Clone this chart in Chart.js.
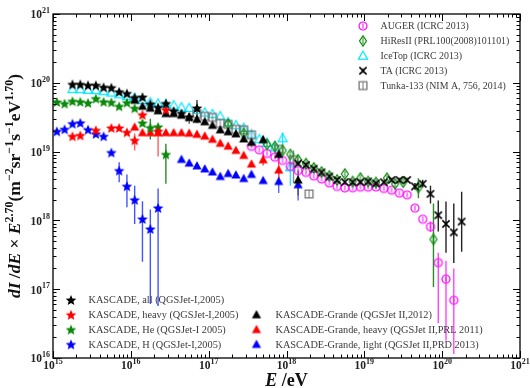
<!DOCTYPE html>
<html><head><meta charset="utf-8">
<script src="https://cdn.jsdelivr.net/npm/chart.js@4.4.0/dist/chart.umd.min.js"></script>
<style>html,body{margin:0;padding:0;background:#fff}</style>
</head><body><canvas id="c" width="530" height="388"></canvas>
<script>
// ---------------- DATA (E in eV, flux = dI/dE x E^2.70) ----------------
const xTickExp = ['15','16','17','18','19','20','21'];
const yTickExp = ['16','17','18','19','20','21'];

// KASCADE (QGSJet-I, 2005)
const kasAllE = [1.78e15,2.24e15,2.82e15,3.55e15,4.47e15,5.62e15,7.08e15,8.91e15,1.12e16,1.41e16,1.78e16,2.24e16,2.82e16,3.55e16,4.47e16,5.62e16,7.08e16];
const kasAllF = [9.5e19,9.5e19,9.2e19,9.2e19,8.6e19,8.5e19,7.4e19,7.0e19,6.1e19,6.2e19,4.9e19,4.4e19,5.0e19,3.9e19,3.6e19,3.2e19,4.3e19];
const kasAllErrE = [7.08e16], kasAllErrLo = [2.6e19], kasAllErrHi = [5.6e19];

const kasHeavyE = [1.78e15,2.24e15,3.55e15,5.62e15,7.08e15,8.91e15,1.12e16,1.41e16,2.24e16,2.82e16];
const kasHeavyF = [1.67e19,1.72e19,2.04e19,2.21e19,2.21e19,1.91e19,1.46e19,3.43e19,1.97e19,4.06e19];
const kasHeavyErrE = [1.12e16,2.24e16], kasHeavyErrLo = [1.04e19,8.5e18], kasHeavyErrHi = [1.84e19,2.4e19];

const kasHeE = [1.12e15,1.41e15,1.78e15,2.24e15,2.82e15,3.55e15,4.47e15,5.62e15,7.08e15,8.91e15,1.12e16,1.41e16,1.78e16,2.24e16,2.82e16];
const kasHeF = [5.27e19,4.99e19,5.4e19,5.3e19,5.1e19,5.9e19,5.3e19,5.2e19,4.56e19,5.16e19,4.27e19,2.6e19,2.23e19,2.29e19,9.1e18];
const kasHeErrE = [1.78e16,2.82e16], kasHeErrLo = [1.5e19,3.4e18], kasHeErrHi = [3.0e19,1.3e19];

const kasHE = [1.12e15,1.41e15,1.78e15,2.24e15,2.82e15,3.55e15,4.47e15,5.62e15,7.08e15,8.91e15,1.12e16,1.41e16,1.78e16,2.24e16];
const kasHF = [1.97e19,2.11e19,2.55e19,2.62e19,2.09e19,1.81e19,1.67e19,9.7e18,5.3e18,3.14e18,1.99e18,1.05e18,7.5e17,1.52e18];
const kasHErrE = [7.08e15,8.91e15,1.12e16,1.41e16,1.78e16,2.24e16];
const kasHErrLo = [3.6e18,1.55e18,8.9e17,2.5e17,6.1e16,5.7e16];
const kasHErrHi = [7.0e18,4.66e18,3.2e18,1.9e18,1.44e18,2.9e18];

// KASCADE-Grande (QGSJet II)
const kgAllE = [1.12e16,1.41e16,1.78e16,2.24e16,2.82e16,3.55e16,4.47e16,5.62e16,7.08e16,8.91e16,1.12e17,1.41e17,1.78e17,2.24e17,2.82e17,3.55e17,5.01e17,7.94e17,1.41e18];
const kgAllF = [5.57e19,4.56e19,4.27e19,3.92e19,3.57e19,3.57e19,3.38e19,3.15e19,2.95e19,2.71e19,2.41e19,2.07e19,1.94e19,1.81e19,1.53e19,1.36e19,1.49e19,9.1e18,3.86e18];
const kgAllErrE = [5.62e16,5.01e17,7.94e17,1.41e18], kgAllErrLo = [2.55e19,1.3e19,7.4e18,2.3e18], kgAllErrHi = [3.6e19,1.7e19,1.06e19,5.3e18];

const kgHeavyE = [1.12e16,1.41e16,1.78e16,2.24e16,2.82e16,3.55e16,4.47e16,5.62e16,7.08e16,8.91e16,1.12e17,1.41e17,1.78e17,2.24e17,2.82e17,3.55e17,5.01e17,7.94e17];
const kgHeavyF = [2.27e19,1.88e19,1.88e19,1.88e19,1.88e19,1.88e19,1.88e19,1.85e19,1.78e19,1.68e19,1.51e19,1.32e19,1.2e19,1.04e19,8.8e18,6.6e18,7.6e18,5.4e18];
const kgHeavyErrE = [5.01e17,7.94e17], kgHeavyErrLo = [6.3e18,3.8e18], kgHeavyErrHi = [9.3e18,7.45e18];

const kgLightE = [4.47e16,5.62e16,7.08e16,8.91e16,1.12e17,1.41e17,1.78e17,2.24e17,2.82e17,3.55e17,5.01e17,7.94e17,1.41e18];
const kgLightF = [7.7e18,6.8e18,6.2e18,5.6e18,5.06e18,4.35e18,4.8e18,4.57e18,4.06e18,4.66e18,3.8e18,3.68e18,3.3e18];
const kgLightErrE = [7.94e17,1.41e18], kgLightErrLo = [2.5e18,1.95e18], kgLightErrHi = [5.0e18,4.3e18];

// Other experiments
const augerE = [3.55e17,4.47e17,5.62e17,7.08e17,8.91e17,1.12e18,1.41e18,1.78e18,2.24e18,2.82e18,3.55e18,4.47e18,5.62e18,7.08e18,8.91e18,1.12e19,1.41e19,1.78e19,2.24e19,2.82e19,3.55e19,4.47e19,5.62e19,7.08e19,8.91e19,1.12e20,1.41e20];
const augerF = [1.19e19,1.06e19,9.4e18,8.3e18,7.45e18,6.1e18,5.3e18,4.98e18,4.43e18,4.0e18,3.5e18,3.11e18,2.96e18,2.98e18,3.04e18,3.04e18,3.06e18,2.91e18,2.75e18,2.5e18,2.35e18,1.51e18,1.04e18,8.1e17,2.43e17,1.40e17,6.9e16];
const augerErrE = [7.08e19,8.91e19,1.12e20,1.41e20], augerErrLo = [6.8e17,3.2e16,1.8e16,1.14e16], augerErrHi = [9.6e17,3.4e17,2.6e17,2.0e17];

const hiresE = [1.78e17,2.82e17,5.62e17,7.08e17,8.91e17,1.12e18,1.41e18,1.78e18,2.24e18,2.82e18,3.55e18,4.47e18,5.62e18,7.08e18,8.91e18,1.12e19,1.41e19,1.95e19,2.49e19,3.16e19,4.95e19,7.73e19];
const hiresF = [2.5e19,1.84e19,1.27e19,1.19e19,1.04e19,9.1e18,7.6e18,6.7e18,5.8e18,5.06e18,4.43e18,3.87e18,4.73e18,3.68e18,4.14e18,3.68e18,3.56e18,4.11e18,3.4e18,3.59e18,3.0e18,5.3e17];
const hiresErrE = [4.95e19,7.73e19], hiresErrLo = [2.1e18,1.08e17], hiresErrHi = [4.1e18,1.76e18];

const icetopE = [1.78e15,2.24e15,2.82e15,3.55e15,4.47e15,5.62e15,7.08e15,8.91e15,1.12e16,1.41e16,1.78e16,2.24e16,2.82e16,3.55e16,4.47e16,5.62e16,7.08e16,8.91e16,1.12e17,1.41e17,1.78e17,2.24e17,2.82e17,3.55e17,4.47e17,5.62e17,7.08e17,8.91e17,1.12e18];
const icetopF = [8.07e19,8.07e19,7.9e19,7.8e19,7.55e19,7.2e19,6.8e19,6.4e19,6.0e19,5.6e19,5.2e19,5.0e19,4.9e19,4.7e19,4.4e19,4.3e19,4.0e19,3.7e19,3.5e19,3.26e19,2.67e19,2.41e19,2.21e19,1.78e19,1.51e19,1.34e19,1.15e19,1.56e19,5.9e18];
const icetopErrE = [8.91e17,1.12e18], icetopErrLo = [1.25e19,3.2e18], icetopErrHi = [1.9e19,7.5e18];

const taE = [1.41e18,1.78e18,2.24e18,2.82e18,3.55e18,4.47e18,5.62e18,7.08e18,8.91e18,1.12e19,1.41e19,1.78e19,2.24e19,2.82e19,3.55e19,4.47e19,5.62e19,7.08e19,8.91e19,1.12e20,1.41e20,1.78e20];
const taF = [6.7e18,6.4e18,5.64e18,4.98e18,4.35e18,3.87e18,3.61e18,3.59e18,3.59e18,3.68e18,3.44e18,3.59e18,3.87e18,3.87e18,3.87e18,3.11e18,3.4e18,2.43e18,1.19e18,8.9e17,6.7e17,9.6e17];
const taErrE = [4.47e19,5.62e19,7.08e19,8.91e19,1.12e20,1.41e20,1.78e20];
const taErrLo = [2.8e18,3.0e18,1.76e18,6.9e17,3.4e17,2.4e17,3.5e17];
const taErrHi = [3.5e18,3.9e18,3.2e18,1.95e18,1.88e18,1.76e18,2.6e18];

const tunkaE = [7.08e16,8.91e16,1.12e17,1.41e17,1.78e17,2.24e17,2.82e17,3.55e17,7.94e17,1.23e18,1.95e18];
const tunkaF = [3.55e19,3.26e19,3.15e19,2.58e19,2.49e19,2.11e19,2.07e19,1.75e19,1.08e19,7.6e18,2.42e18];
const tunkaErrE = [1.23e18], tunkaErrLo = [3.5e18], tunkaErrHi = [1.04e19];

// ---------------- MARKERS ----------------
function makeMarker(kind, color) {
  const S = 16, c = document.createElement('canvas');
  c.width = S; c.height = S;
  const g = c.getContext('2d');
  g.translate(S/2, S/2);
  g.fillStyle = color; g.strokeStyle = color; g.lineWidth = 1.2;
  g.beginPath();
  if (kind === 'star') {
    const R = 5.6, r = 2.5;
    for (let i = 0; i < 10; i++) {
      const a = -Math.PI/2 + i*Math.PI/5, rr = (i % 2) ? r : R;
      g.lineTo(rr*Math.cos(a), rr*Math.sin(a)+0.5);
    }
    g.closePath(); g.fill();
  } else if (kind === 'tri' || kind === 'otri') {
    g.moveTo(0,-4.8); g.lineTo(4.6,3.4); g.lineTo(-4.6,3.4); g.closePath();
    if (kind === 'tri') g.fill(); else g.stroke();
  } else if (kind === 'ocircle') {
    g.arc(0,0,4,0,Math.PI*2); g.stroke();
    g.beginPath(); g.moveTo(0,-2.6); g.lineTo(0,2.6); g.lineWidth = 1; g.stroke();
  } else if (kind === 'odiamond') {
    g.moveTo(0,-5.2); g.lineTo(3.5,0); g.lineTo(0,5.2); g.lineTo(-3.5,0); g.closePath(); g.stroke();
    g.beginPath(); g.moveTo(0,-3); g.lineTo(0,3); g.lineWidth = 1; g.stroke();
  } else if (kind === 'x') {
    g.lineWidth = 1.5;
    g.moveTo(-3.6,-3.6); g.lineTo(3.6,3.6); g.moveTo(3.6,-3.6); g.lineTo(-3.6,3.6); g.stroke();
    g.beginPath(); g.lineWidth = 1; g.moveTo(0,-2.5); g.lineTo(0,2.5); g.stroke();
  } else if (kind === 'osquare') {
    g.lineWidth = 1.3;
    g.rect(-3.9,-3.9,7.8,7.8); g.stroke();
    g.beginPath(); g.lineWidth = 1; g.moveTo(0,-3.9); g.lineTo(0,3.9); g.stroke();
  }
  return c;
}

const IMG = {
  kasAll: makeMarker('star','#000000'),
  kasHeavy: makeMarker('star','#ff0000'),
  kasHe: makeMarker('star','#0a8a0a'),
  kasH: makeMarker('star','#0000ff'),
  kgAll: makeMarker('tri','#000000'),
  kgHeavy: makeMarker('tri','#ff0000'),
  kgLight: makeMarker('tri','#0000ff'),
  auger: makeMarker('ocircle','#ff00ff'),
  hires: makeMarker('odiamond','#0a8a0a'),
  icetop: makeMarker('otri','#00e5ff'),
  ta: makeMarker('x','#000000'),
  tunka: makeMarker('osquare','#777777')
};

const series = [
  {name:'KASCADE, all (QGSJet-I,2005)', E:kasAllE, F:kasAllF, eE:kasAllErrE, eLo:kasAllErrLo, eHi:kasAllErrHi, m:'kasAll', ec:'#333333', order:1},
  {name:'KASCADE, heavy (QGSJet-I,2005)', E:kasHeavyE, F:kasHeavyF, eE:kasHeavyErrE, eLo:kasHeavyErrLo, eHi:kasHeavyErrHi, m:'kasHeavy', ec:'#ff6060', order:2},
  {name:'KASCADE, He (QGSJet-I 2005)', E:kasHeE, F:kasHeF, eE:kasHeErrE, eLo:kasHeErrLo, eHi:kasHeErrHi, m:'kasHe', ec:'#2a8a2a', order:3},
  {name:'KASCADE, H (QGSJet-I,2005)', E:kasHE, F:kasHF, eE:kasHErrE, eLo:kasHErrLo, eHi:kasHErrHi, m:'kasH', ec:'#4455ff', order:4},
  {name:'KASCADE-Grande (QGSJet II,2012)', E:kgAllE, F:kgAllF, eE:kgAllErrE, eLo:kgAllErrLo, eHi:kgAllErrHi, m:'kgAll', ec:'#555555', order:5},
  {name:'KASCADE-Grande, heavy (QGSJet II,PRL 2011)', E:kgHeavyE, F:kgHeavyF, eE:kgHeavyErrE, eLo:kgHeavyErrLo, eHi:kgHeavyErrHi, m:'kgHeavy', ec:'#ff5050', order:6},
  {name:'KASCADE-Grande, light (QGSJet II,PRD 2013)', E:kgLightE, F:kgLightF, eE:kgLightErrE, eLo:kgLightErrLo, eHi:kgLightErrHi, m:'kgLight', ec:'#5566ff', order:7},
  {name:'AUGER (ICRC 2013)', E:augerE, F:augerF, eE:augerErrE, eLo:augerErrLo, eHi:augerErrHi, m:'auger', ec:'#ff44ff', order:10},
  {name:'HiResII (PRL100(2008)101101)', E:hiresE, F:hiresF, eE:hiresErrE, eLo:hiresErrLo, eHi:hiresErrHi, m:'hires', ec:'#2a8a2a', order:9},
  {name:'IceTop (ICRC 2013)', E:icetopE, F:icetopF, eE:icetopErrE, eLo:icetopErrLo, eHi:icetopErrHi, m:'icetop', ec:'#33ddff', order:12},
  {name:'TA (ICRC 2013)', E:taE, F:taF, eE:taErrE, eLo:taErrLo, eHi:taErrHi, m:'ta', ec:'#222222', order:8},
  {name:'Tunka-133 (NIM A, 756, 2014)', E:tunkaE, F:tunkaF, eE:tunkaErrE, eLo:tunkaErrLo, eHi:tunkaErrHi, m:'tunka', ec:'#888888', order:11}
];

const datasets = [];
series.forEach(s => {
  datasets.push({
    type:'scatter', label:s.name,
    data: s.E.map((e,i) => ({x:e, y:s.F[i]})),
    pointStyle: IMG[s.m], pointRadius: 5, pointHoverRadius: 5,
    showLine:false, order:s.order
  });
  const err = [];
  s.eE.forEach((e,i) => { err.push({x:e, y:s.eLo[i]}, {x:e, y:s.eHi[i]}, {x:e, y:null}); });
  datasets.push({
    type:'line', label:s.name+' err', data:err,
    borderColor:s.ec, borderWidth:1.4, pointRadius:0, spanGaps:false, tension:0,
    fill:false, order:50
  });
});

// ---------------- DECORATION ----------------
const SERIF = '"Liberation Serif", "Times New Roman", serif';
function richWidth(ctx, segs) {
  let w = 0; segs.forEach(s => { ctx.font = s.f; w += ctx.measureText(s.t).width; }); return w;
}
function drawRich(ctx, segs, x, y) {
  let cx = x;
  segs.forEach(s => { ctx.font = s.f; ctx.fillText(s.t, cx, y + (s.dy||0)); cx += ctx.measureText(s.t).width; });
}

const decoPlugin = {
  id:'deco',
  afterDraw(chart) {
    const {ctx, chartArea:a, scales:{x, y}} = chart;
    ctx.save();
    // frame
    ctx.strokeStyle = '#000'; ctx.lineWidth = 1.3;
    ctx.strokeRect(a.left, a.top, a.right - a.left, a.bottom - a.top);
    // ticks
    ctx.lineWidth = 1;
    ctx.beginPath();
    xTickExp.forEach((ex, k) => {
      for (let m = 1; m <= 9; m++) {
        if (k === xTickExp.length - 1 && m > 1) break;
        const px = Math.round(x.getPixelForValue(m * Math.pow(10, +ex))) + 0.5;
        const L = m === 1 ? 7 : 3.5;
        ctx.moveTo(px, a.bottom); ctx.lineTo(px, a.bottom - L);
        ctx.moveTo(px, a.top); ctx.lineTo(px, a.top + L);
      }
    });
    yTickExp.forEach((ex, k) => {
      for (let m = 1; m <= 9; m++) {
        if (k === yTickExp.length - 1 && m > 1) break;
        const py = Math.round(y.getPixelForValue(m * Math.pow(10, +ex))) + 0.5;
        const L = m === 1 ? 7 : 3.5;
        ctx.moveTo(a.left, py); ctx.lineTo(a.left + L, py);
        ctx.moveTo(a.right, py); ctx.lineTo(a.right - L, py);
      }
    });
    ctx.stroke();

    // tick labels
    ctx.fillStyle = '#222';
    ctx.textBaseline = 'middle';
    ctx.textAlign = 'left';
    const fb = 'bold 11.5px ' + SERIF, fs = 'bold 8px ' + SERIF;
    yTickExp.forEach(ex => {
      const py = y.getPixelForValue(Math.pow(10, +ex));
      ctx.font = fs; const ws = ctx.measureText(ex).width;
      ctx.font = fb; const wb = ctx.measureText('10').width;
      const x0 = a.left - 3 - ws - wb;
      ctx.font = fb; ctx.fillText('10', x0, py + 1.5);
      ctx.font = fs; ctx.fillText(ex, x0 + wb, py - 3);
    });
    xTickExp.forEach(ex => {
      const px = x.getPixelForValue(Math.pow(10, +ex));
      ctx.font = fs; const ws = ctx.measureText(ex).width;
      ctx.font = fb; const wb = ctx.measureText('10').width;
      const x0 = px - (wb + ws) / 2;
      ctx.font = fb; ctx.fillText('10', x0, a.bottom + 8.5);
      ctx.font = fs; ctx.fillText(ex, x0 + wb, a.bottom + 3.5);
    });

    // axis titles
    ctx.fillStyle = '#111';
    ctx.textBaseline = 'alphabetic';
    const bi = 'italic bold 18px ' + SERIF, b = 'bold 18px ' + SERIF;
    const xt = [{t:'E', f:bi}, {t:' /eV', f:b}];
    const xw = richWidth(ctx, xt);
    drawRich(ctx, xt, (a.left + a.right) / 2 - xw / 2, 386);

    const ybi = 'italic bold 17.5px ' + SERIF, yb = 'bold 17.5px ' + SERIF, ysp = 'bold 12px ' + SERIF;
    const yt = [
      {t:'dI', f:ybi}, {t:' /', f:yb}, {t:'dE', f:ybi}, {t:' \u00d7 ', f:yb}, {t:'E', f:ybi},
      {t:'2.70', f:ysp, dy:-7}, {t:'(m', f:yb}, {t:'\u22122', f:ysp, dy:-7}, {t:'sr', f:yb},
      {t:'\u22121', f:ysp, dy:-7}, {t:'s', f:yb}, {t:'\u22121', f:ysp, dy:-7}, {t:'eV', f:yb},
      {t:'1.70', f:ysp, dy:-7}, {t:')', f:yb}
    ];
    const yw = richWidth(ctx, yt);
    ctx.save();
    ctx.translate(20, (a.top + a.bottom) / 2);
    ctx.rotate(-Math.PI / 2);
    drawRich(ctx, yt, -yw / 2, 0);
    ctx.restore();

    // legends
    ctx.textBaseline = 'middle';
    ctx.fillStyle = '#3a3a3a';
    const drawEntry = (s, mx, tx, ly, fsz) => {
      const im = IMG[s.m];
      ctx.drawImage(im, mx - im.width / 2, ly - im.height / 2);
      ctx.font = fsz + 'px ' + SERIF;
      ctx.fillText(s.name, tx, ly + 0.5);
    };
    series.slice(7).forEach((s, i) => drawEntry(s, 363, 380.5, 26 + i * 14.9, 9.9));
    series.slice(0, 4).forEach((s, i) => drawEntry(s, 71, 88.5, 300 + i * 14.8, 10.3));
    series.slice(4, 7).forEach((s, i) => drawEntry(s, 256.5, 275.5, 314.8 + i * 14.8, 10.3));
    ctx.restore();
  }
};

new Chart(document.getElementById('c').getContext('2d'), {
  type:'scatter',
  data:{datasets},
  options:{
    responsive:false, animation:false, devicePixelRatio:1,
    layout:{padding:{left:53, right:10, top:14, bottom:30}},
    plugins:{legend:{display:false}, tooltip:{enabled:false}},
    scales:{
      x:{type:'logarithmic', min:1e15, max:1e21, display:false},
      y:{type:'logarithmic', min:1e16, max:1e21, display:false}
    }
  },
  plugins:[decoPlugin]
});
</script></body></html>
